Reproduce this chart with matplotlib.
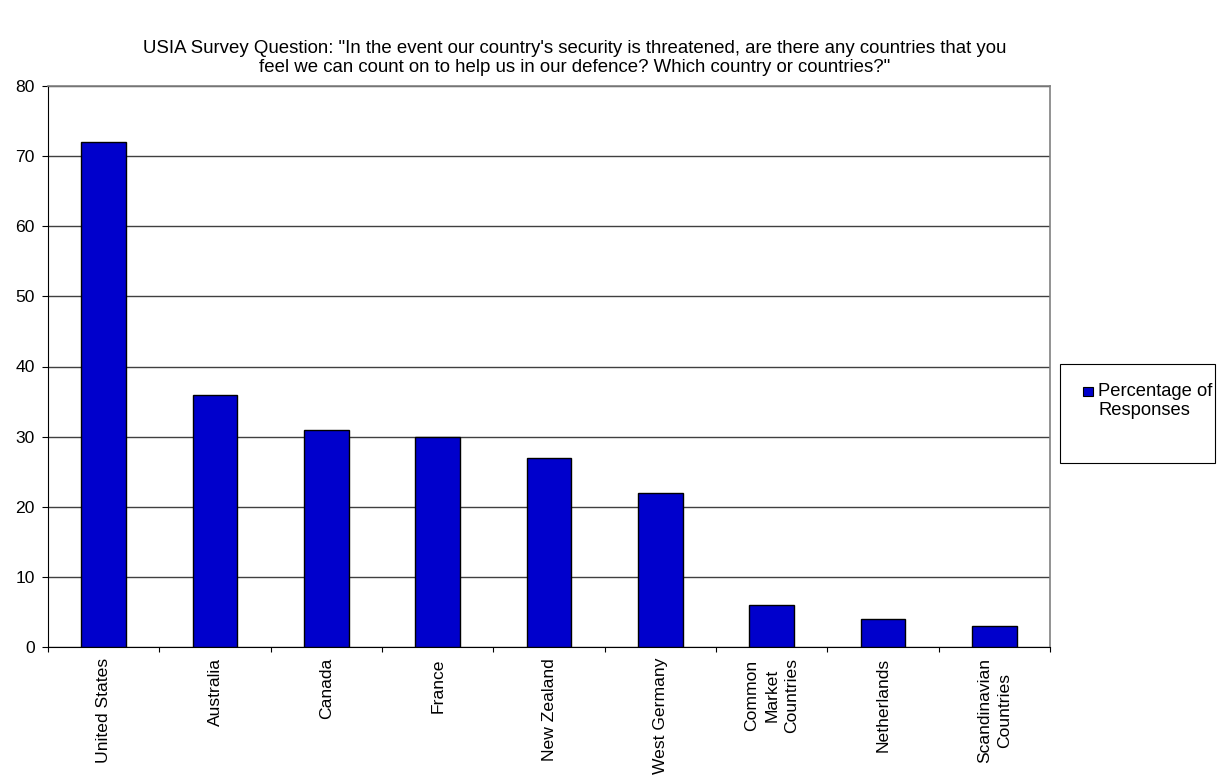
import matplotlib
matplotlib.use("Agg")
import matplotlib.pyplot as plt
import numpy as np
from matplotlib.patches import Rectangle
from matplotlib.font_manager import FontProperties

plt.rcParams['font.family'] = ['Liberation Sans', 'DejaVu Sans']

categories = ["United States", "Australia", "Canada", "France", "New Zealand",
              "West Germany", "Common\nMarket\nCountries", "Netherlands",
              "Scandinavian\nCountries"]
values = [72, 36, 31, 30, 27, 22, 6, 4, 3]
yticks = [0, 10, 20, 30, 40, 50, 60, 70, 80]
series_lines = ["Percentage of", "Responses"]
title_lines = ["USIA Survey Question: \"In the event our country's security is threatened, are there any countries that you",
               "feel we can count on to help us in our defence? Which country or countries?\""]

FS = 12.6
TFS = 13.4
LFS = 13.2
BAR = "#0000CC"
fig = plt.figure(figsize=(12.29, 7.78), dpi=100)
W, H = 1229, 778
renderer = fig.canvas.get_renderer()
_, lh, ld = renderer.get_text_width_height_descent(
    "lp", FontProperties(family=['Liberation Sans'], size=FS), ismath=False)
asc = lh - ld  # pixels

ax = fig.add_axes([48 / W, 1 - 647 / H, (1050 - 48) / W, (647 - 86) / H])

x = np.arange(len(categories))
ax.bar(x, values, width=0.4, color=BAR, edgecolor="black", linewidth=1, zorder=3)

ax.set_xlim(-0.5, len(categories) - 0.5)
ax.set_ylim(0, 80)
ax.set_yticks(yticks)
ax.set_yticklabels([str(v) for v in yticks], fontsize=FS)
ax.yaxis.grid(True, color="#404040", linewidth=1.0, zorder=0)
ax.set_axisbelow(True)

ax.set_xticks(np.arange(len(categories) + 1) - 0.5)
ax.set_xticklabels([])
ax.set_xticks(x, minor=True)
ax.set_xticklabels(categories, minor=True, rotation=90, fontsize=FS,
                   ha="center", va="top", multialignment="center",
                   linespacing=17.0 / asc)
ax.tick_params(axis="x", which="minor", length=0, pad=8)
ax.tick_params(axis="x", which="major", length=3.5, direction="out", color="black")
ax.tick_params(axis="y", length=4, direction="out", pad=5.5)

for s in ["top", "right"]:
    ax.spines[s].set_color("#808080")
    ax.spines[s].set_linewidth(1.2)
for s in ["left", "bottom"]:
    ax.spines[s].set_color("black")

# title, one line per text
for line, yb in zip(title_lines, [53, 72]):
    fig.text(575 / W, 1 - yb / H, line, ha="center", va="baseline", fontsize=TFS)

# legend box
fig.patches.append(Rectangle((1060 / W, 1 - 463 / H), (1215 - 1060) / W, (463 - 364) / H,
                             transform=fig.transFigure, facecolor="white",
                             edgecolor="black", linewidth=0.8))
fig.patches.append(Rectangle((1083 / W, 1 - 396 / H), 10 / W, 9 / H,
                             transform=fig.transFigure, facecolor=BAR,
                             edgecolor="black", linewidth=0.8))
for line, yb in zip(series_lines, [396, 415]):
    fig.text(1098 / W, 1 - yb / H, line, ha="left", va="baseline", fontsize=LFS)

fig.savefig("out.png", dpi=100)
